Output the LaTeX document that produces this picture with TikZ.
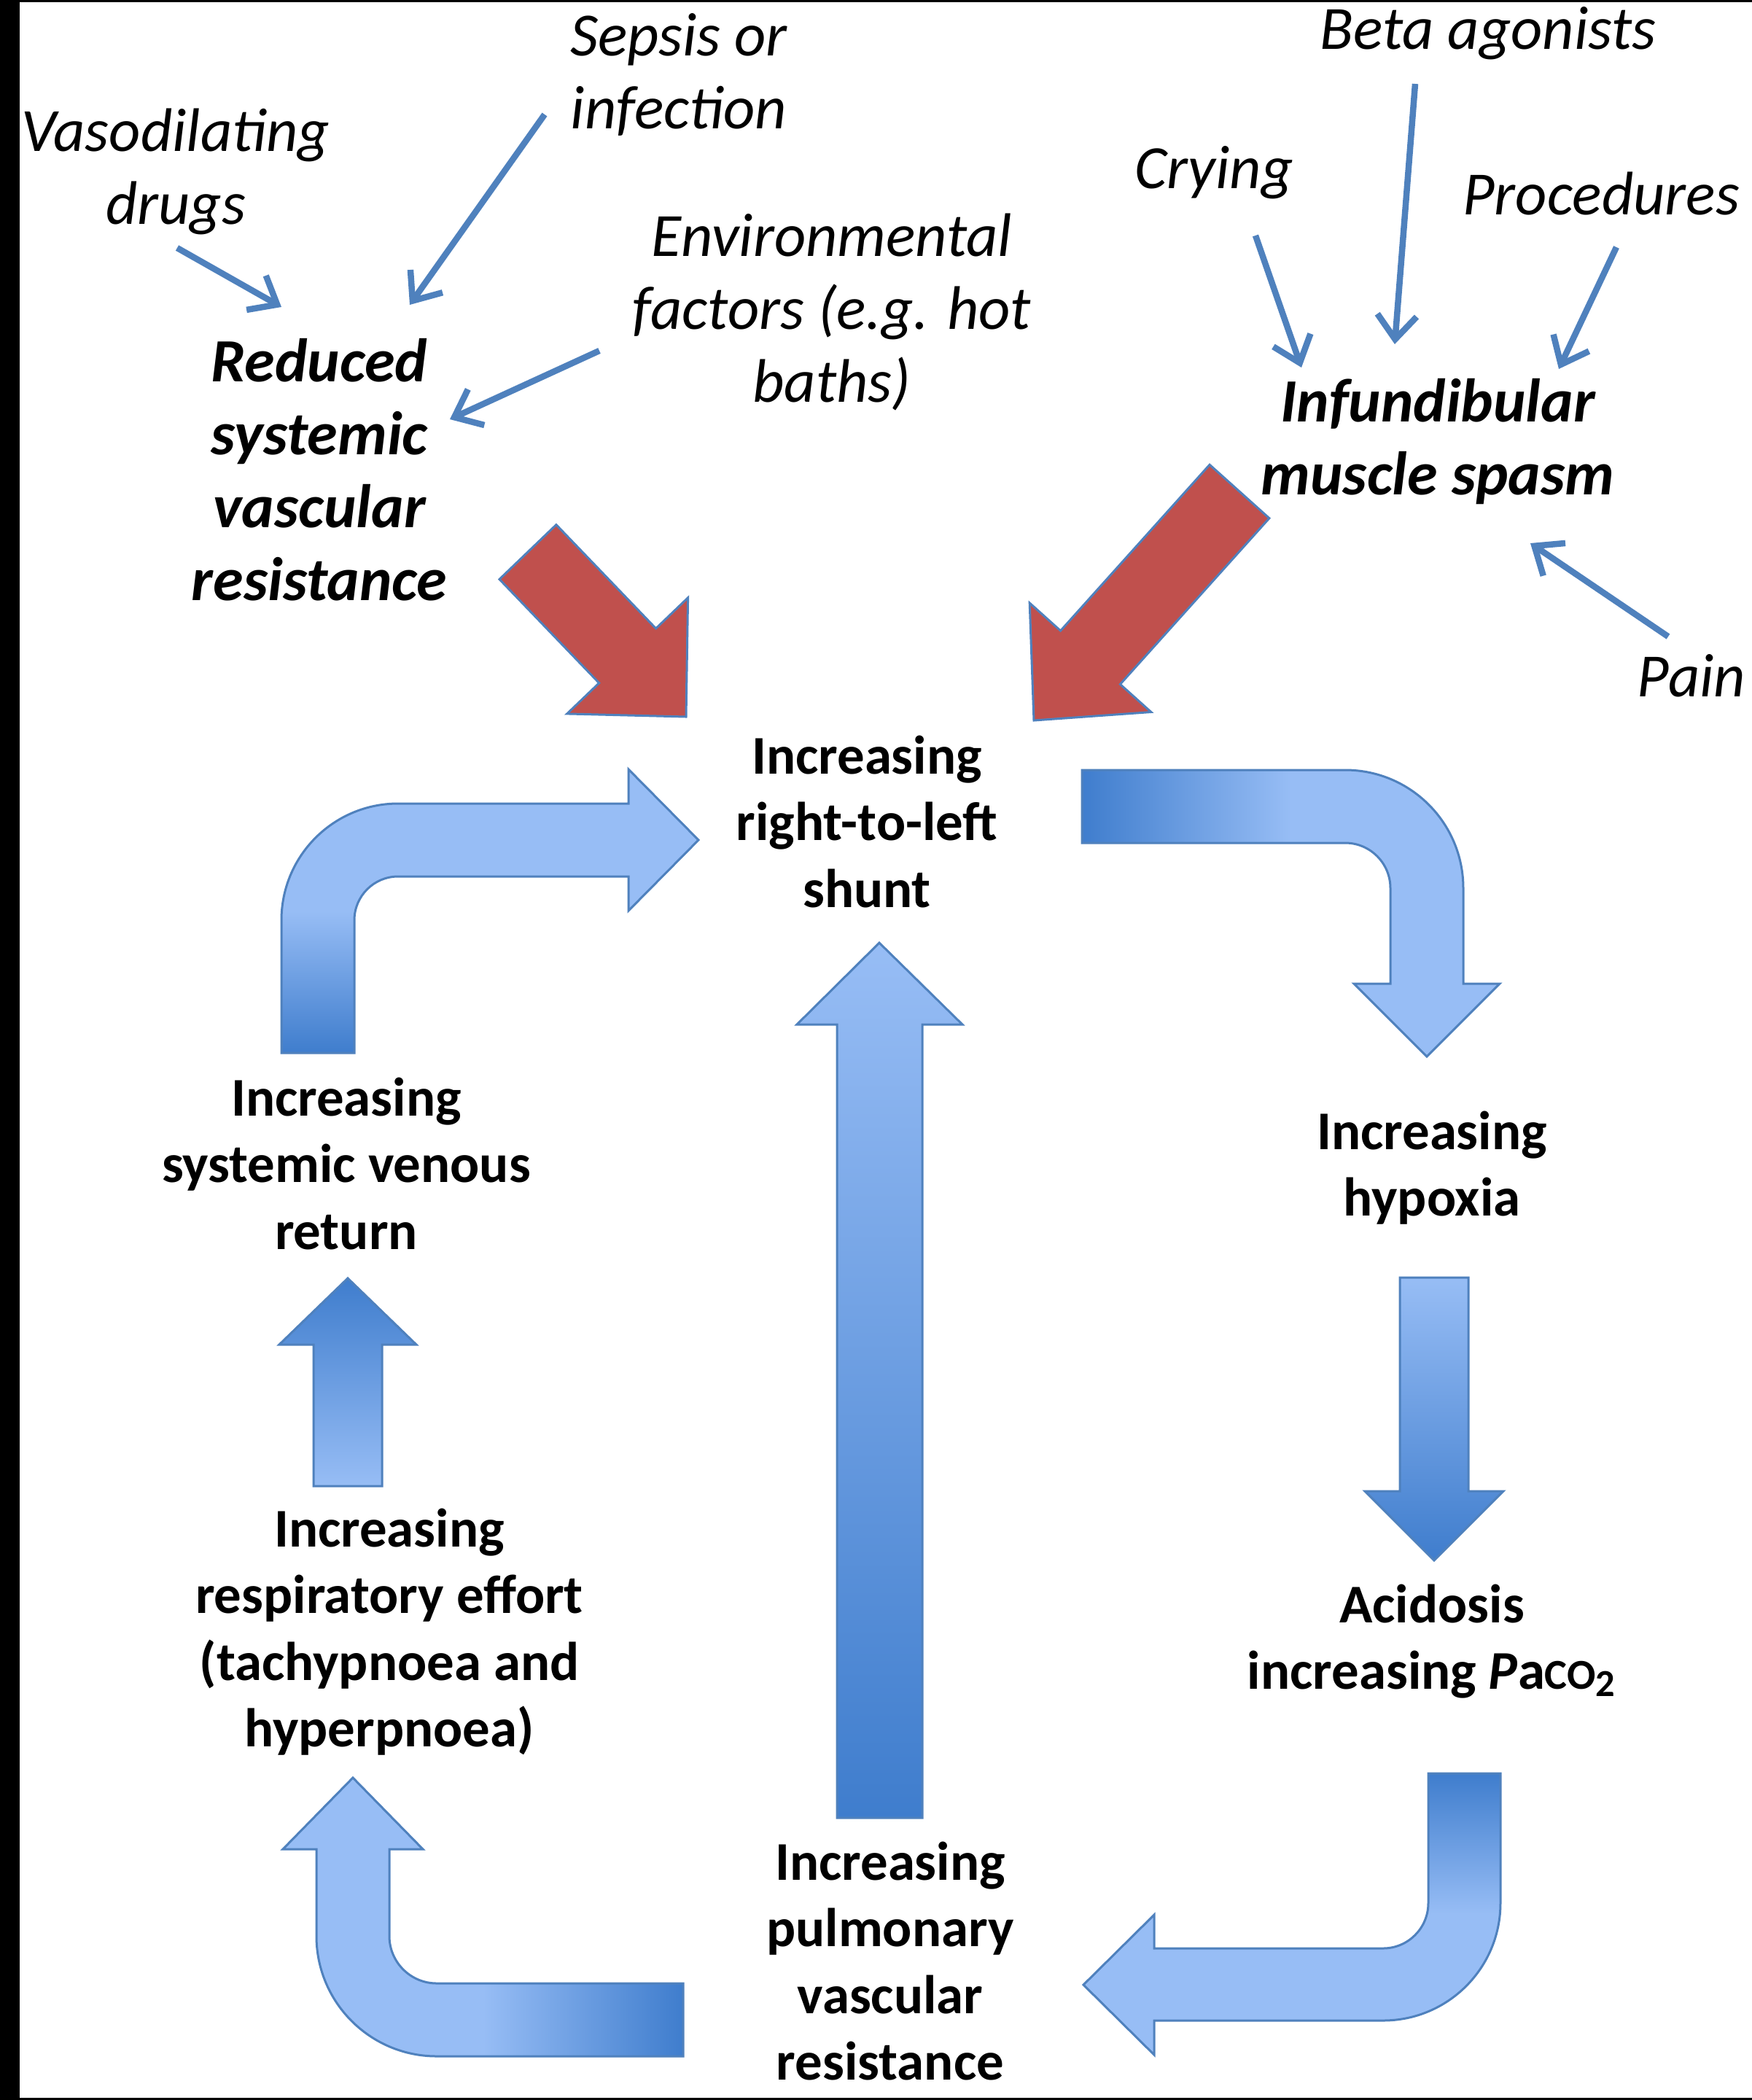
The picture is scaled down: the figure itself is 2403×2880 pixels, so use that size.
\documentclass[tikz,border=0pt]{standalone}
\usepackage{fontspec}
\setmainfont{Carlito}
\usepackage{tikz}
\usetikzlibrary{arrows.meta}
\definecolor{lineblue}{RGB}{79,129,189}
\definecolor{darkblue}{RGB}{63,125,205}
\definecolor{lightblue}{RGB}{151,189,245}
\definecolor{shuntred}{RGB}{192,80,77}

\begin{document}
\begin{tikzpicture}[x=0.1mm, y=-0.1mm,
  cause/.style={anchor=base, inner sep=0pt, align=center, font=\fontsize{24}{28.45}\selectfont\itshape},
  effect/.style={anchor=base, inner sep=0pt, align=center, font=\fontsize{24}{28.45}\selectfont\bfseries\itshape},
  stage/.style={anchor=base, inner sep=0pt, align=center, font=\fontsize{21.3}{25.9}\selectfont\bfseries},
  feeder/.style={draw=lineblue, line width=0.85mm, -{Straight Barb[length=3.3mm, width=5.4mm]}},
  bigarrow/.style={draw=lineblue, line width=0.3mm},
  redarrow/.style={bigarrow, fill=shuntred}]
\useasboundingbox (0,0) rectangle (2403,2880);
\fill[white] (0,0) rectangle (2403,2880);
\fill[black] (0,0) rectangle (27,2880);
\fill[black] (0,0) rectangle (2403,3);
\fill[black] (0,2877) rectangle (2403,2880);

\draw[redarrow] (762.9,719.6) -- (899.6,861.9) -- (943.6,819.7) -- (941,983)
  -- (777.7,978.9) -- (821.7,936.7) -- (685,794.4) -- cycle;
\draw[redarrow] (1659.1,637.3) -- (1454.6,865) -- (1412.2,826.9) -- (1418,988)
  -- (1578.8,976.5) -- (1536.4,938.4) -- (1740.9,710.7) -- cycle;

\draw[bigarrow, top color=lightblue, bottom color=darkblue, middle color=lightblue]
  (386,1444) -- (386,1262) arc[start angle=180, end angle=90, radius=16mm]
  -- (862,1102) -- (862,1055) -- (958,1152) -- (862,1249) -- (862,1202)
  -- (546,1202) arc[start angle=90, end angle=180, radius=6mm] -- (486,1444) -- cycle;
\draw[bigarrow, left color=darkblue, right color=lightblue, middle color=lightblue]
  (1484,1056) -- (1845,1056) arc[start angle=90, end angle=0, radius=16.2mm]
  -- (2007,1349) -- (2057,1349) -- (1957,1449) -- (1857,1349) -- (1907,1349)
  -- (1907,1218) arc[start angle=0, end angle=90, radius=6.2mm] -- (1484,1156) -- cycle;
\draw[bigarrow, top color=lightblue, bottom color=darkblue]
  (1920,1752) -- (2014,1752) -- (2014,2045) -- (2062,2045) -- (1967,2140)
  -- (1872,2045) -- (1920,2045) -- cycle;
\draw[bigarrow, top color=darkblue, bottom color=lightblue, middle color=lightblue]
  (1959,2432) -- (2058,2432) -- (2058,2610) arc[start angle=0, end angle=-90, radius=16.1mm]
  -- (1583,2771) -- (1583,2818) -- (1486,2722) -- (1583,2626) -- (1583,2672)
  -- (1897,2672) arc[start angle=-90, end angle=0, radius=6.2mm] -- cycle;
\draw[bigarrow, left color=lightblue, right color=darkblue, middle color=lightblue]
  (937,2720) -- (599,2720) arc[start angle=-90, end angle=-180, radius=6.5mm]
  -- (534,2536) -- (580,2536) -- (484,2438) -- (388,2536) -- (434,2536)
  -- (434,2655) arc[start angle=180, end angle=270, radius=16.5mm] -- (937,2820) -- cycle;
\draw[bigarrow, top color=darkblue, bottom color=lightblue]
  (430,2038) -- (430,1844) -- (383,1844) -- (477,1753) -- (571,1844)
  -- (524,1844) -- (524,2038) -- cycle;
\draw[bigarrow, top color=lightblue, bottom color=darkblue]
  (1148,2493) -- (1148,1405) -- (1093,1405) -- (1206,1293) -- (1320,1405)
  -- (1265,1405) -- (1265,2493) -- cycle;

\node[stage] (shunt) at (1189,1244) {Increasing\\right-to-left\\shunt};
\node[stage] (hypoxia) at (1964,1667) {Increasing\\hypoxia};
\node[stage] (acidosis) at (1964,2316) {Acidosis\\increasing \textit{P}a{\fontsize{16.6}{20}\selectfont CO}\textsubscript{2}};
\node[stage] (pulmonary) at (1221,2852) {Increasing\\pulmonary\\vascular\\resistance};
\node[stage] (effort) at (534,2395) {Increasing\\respiratory effort\\(tachypnoea and\\hyperpnoea)};
\node[stage] (venous) at (475,1713) {Increasing\\systemic venous\\return};
\node[effect] (svr) at (438,823) {Reduced\\systemic\\vascular\\resistance};
\node[effect] (spasm) at (1972,678) {Infundibular\\muscle spasm};
\node[cause] (vaso) at (241,307) {Vasodilating\\drugs};
\node[cause] (sepsis) at (931,176) {Sepsis or\\infection};
\node[cause] (environment) at (1141,551) {Environmental\\factors (e.g. hot\\baths)};
\node[cause] (crying) at (1665,258) {Crying};
\node[cause] (beta) at (2041,67) {Beta agonists};
\node[cause] (procedures) at (2196,294) {Procedures};
\node[cause] (pain) at (2320,955) {Pain};

\coordinate (vasoOut) at (243,340);
\coordinate (vasoIn) at (386,421);
\coordinate (sepsisOut) at (747,157);
\coordinate (sepsisIn) at (562,418);
\coordinate (environmentOut) at (822,481);
\coordinate (environmentIn) at (617,575);
\coordinate (cryingOut) at (1722,323);
\coordinate (cryingIn) at (1785,504);
\coordinate (betaOut) at (1941,115);
\coordinate (betaIn) at (1913,472);
\coordinate (proceduresOut) at (2217,339);
\coordinate (proceduresIn) at (2138,506);
\coordinate (painOut) at (2288,873);
\coordinate (painIn) at (2099,745);
\draw[feeder] (vasoOut) -- (vasoIn);
\draw[feeder] (sepsisOut) -- (sepsisIn);
\draw[feeder] (environmentOut) -- (environmentIn);
\draw[feeder] (cryingOut) -- (cryingIn);
\draw[feeder] (betaOut) -- (betaIn);
\draw[feeder] (proceduresOut) -- (proceduresIn);
\draw[feeder] (painOut) -- (painIn);
\end{tikzpicture}
\end{document}
